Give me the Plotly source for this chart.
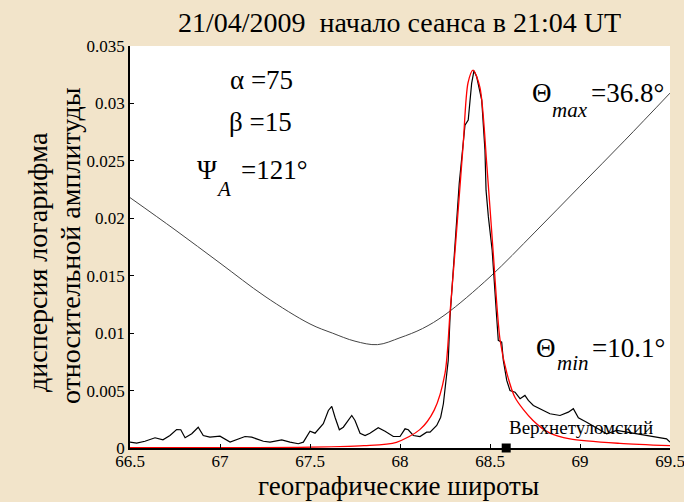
import plotly.graph_objects as go

# Measured variance (black noisy curve)
lat_meas = [66.500, 66.537, 66.583, 66.639, 66.683, 66.722, 66.759, 66.782, 66.806, 66.843,
            66.879, 66.907, 66.944, 67.000, 67.056, 67.093, 67.139, 67.176, 67.241, 67.278,
            67.343, 67.389, 67.435, 67.463, 67.500, 67.528, 67.574, 67.602, 67.621, 67.639,
            67.663, 67.685, 67.732, 67.750, 67.778, 67.806, 67.833, 67.879, 67.917, 67.963,
            68.000, 68.028, 68.046, 68.074, 68.111, 68.148, 68.167, 68.204, 68.226, 68.241,
            68.259, 68.268, 68.278, 68.296, 68.306, 68.329, 68.361, 68.379, 68.398, 68.411,
            68.426, 68.454, 68.472, 68.478, 68.491, 68.512, 68.537, 68.546, 68.565, 68.574,
            68.593, 68.611, 68.639, 68.667, 68.694, 68.713, 68.741, 68.778, 68.815, 68.833,
            68.889, 68.935, 68.963, 68.991, 69.037, 69.111, 69.148, 69.204, 69.259, 69.333,
            69.407, 69.444, 69.481, 69.500]
var_meas = [0.00051, 0.00042, 0.00059, 0.00089, 0.00071, 0.00109, 0.00161, 0.00159, 0.00089, 0.00124,
            0.00181, 0.00109, 0.00094, 0.00103, 0.00051, 0.00071, 0.00100, 0.00094, 0.00059, 0.00051,
            0.00071, 0.00051, 0.00037, 0.00051, 0.00146, 0.00129, 0.00211, 0.00327, 0.00362, 0.00268,
            0.00159, 0.00181, 0.00283, 0.00240, 0.00129, 0.00109, 0.00129, 0.00176, 0.00146, 0.00100,
            0.00100, 0.00167, 0.00159, 0.00109, 0.00100, 0.00138, 0.00138, 0.00196, 0.00268, 0.00385,
            0.00617, 0.00763, 0.01140, 0.01576, 0.01722, 0.02303, 0.02811, 0.02855, 0.03175, 0.03285,
            0.03232, 0.03029, 0.02593, 0.02245, 0.02012, 0.01722, 0.01140, 0.00937, 0.00922, 0.00763,
            0.00588, 0.00501, 0.00486, 0.00429, 0.00458, 0.00414, 0.00370, 0.00342, 0.00312, 0.00298,
            0.00283, 0.00312, 0.00342, 0.00263, 0.00225, 0.00153, 0.00124, 0.00153, 0.00138, 0.00118,
            0.00100, 0.00094, 0.00080, 0.00051]

# Model variance (red curve)
lat_model = [66.5, 67.0, 67.43, 67.8, 67.98, 68.11, 68.19, 68.25, 68.278, 68.306, 68.35, 68.378,
             68.406, 68.444, 68.483, 68.517, 68.556, 68.594, 68.639, 68.739, 68.833, 68.944,
             69.222, 69.5]
var_model = [0.00002, 0.00003, 0.00005, 0.0002, 0.0005, 0.0016, 0.0033, 0.0065, 0.0118, 0.0172,
             0.0262, 0.0318, 0.0329, 0.0314, 0.0245, 0.0172, 0.0094, 0.0065, 0.0044, 0.0024,
             0.0013, 0.0008, 0.0004, 0.0002]

# Angle curve (gray, scaled)
lat_theta = [66.5, 66.75, 67.0, 67.25, 67.5, 67.625, 67.75, 67.875, 68.0, 68.125, 68.25,
             68.5, 68.75, 69.0, 69.25, 69.5]
val_theta = [0.0218, 0.0190, 0.0161, 0.0132, 0.0108, 0.0100, 0.0093, 0.0090, 0.0096, 0.0104,
             0.0116, 0.0149, 0.0188, 0.0228, 0.0268, 0.0309]

station_lat = [68.59]
station_val = [0.0]

x_ticks = [66.5, 67, 67.5, 68, 68.5, 69, 69.5]
x_ticklabels = ["66.5", "67", "67.5", "68", "68.5", "69", "69.5"]
y_ticks = [0, 0.005, 0.01, 0.015, 0.02, 0.025, 0.03, 0.035]
y_ticklabels = ["0", "0.005", "0.01", "0.015", "0.02", "0.025", "0.03", "0.035"]

FONT = "Liberation Serif"
BG = "#F2E4CA"

fig = go.Figure()
fig.add_trace(go.Scatter(x=lat_theta, y=val_theta, mode="lines",
                         line=dict(color="#444444", width=1, shape="spline", smoothing=1),
                         hoverinfo="skip"))
fig.add_trace(go.Scatter(x=lat_meas, y=var_meas, mode="lines",
                         line=dict(color="black", width=1.2), hoverinfo="skip"))
fig.add_trace(go.Scatter(x=lat_model, y=var_model, mode="lines",
                         line=dict(color="#FF0000", width=1.3, shape="spline", smoothing=0.8),
                         hoverinfo="skip"))
fig.add_trace(go.Scatter(x=station_lat, y=station_val, mode="markers",
                         marker=dict(symbol="square", size=9, color="black"),
                         cliponaxis=False, hoverinfo="skip"))

fig.update_layout(
    width=684, height=502,
    margin=dict(l=130, r=14, t=46, b=54, autoexpand=False),
    paper_bgcolor=BG, plot_bgcolor="white",
    showlegend=False,
    font=dict(family=FONT, color="black"),
    xaxis=dict(range=[66.5, 69.5], tickmode="array", tickvals=x_ticks, ticktext=x_ticklabels,
               ticks="inside", ticklen=4, tickcolor="black", showgrid=False, zeroline=False,
               showline=True, linecolor="black", linewidth=1.5, mirror=False,
               ticklabeloverflow="allow", automargin=False, ticklabelstandoff=-3,
               tickfont=dict(size=17, family=FONT)),
    yaxis=dict(range=[0, 0.035], tickmode="array", tickvals=y_ticks, ticktext=y_ticklabels,
               ticks="inside", ticklen=4, tickcolor="black", showgrid=False, zeroline=False,
               showline=True, linecolor="black", linewidth=1.5, mirror=False,
               ticklabeloverflow="allow", automargin=False,
               tickfont=dict(size=17, family=FONT)),
)

L, R, T, B = 130, 670, 46, 448


def ann(text, px, py, size, angle=0):
    fig.add_annotation(text=text, x=(px - L) / (R - L), y=(B - py) / (B - T),
                       xref="paper", yref="paper", showarrow=False,
                       xanchor="center", yanchor="middle", textangle=angle,
                       font=dict(size=size, family=FONT, color="black"))


ann("21/04/2009&nbsp;&nbsp;начало сеанса в 21:04 UT", 399, 22, 28)
ann("географические широты", 398, 486, 27)
ann("дисперсия логарифма", 37, 262, 28, -90)
ann("относительной амплитуды", 71, 246, 28, -90)
ann("α =75", 261, 80, 27)
ann("β =15", 260, 122, 27)
ann("Ψ", 207, 170, 27)
ann("<i>A</i>", 223, 189, 21)
ann("=121°", 274, 170, 27)
ann("Θ", 542, 93, 27)
ann("<i>max</i>", 570, 110, 21)
ann("=36.8°", 627, 93, 27)
ann("Θ", 546, 348, 27)
ann("<i>min</i>", 573, 363, 21)
ann("=10.1°", 628, 348, 27)
ann("Верхнетуломский", 581, 427, 19)

fig.write_html("out.html")
